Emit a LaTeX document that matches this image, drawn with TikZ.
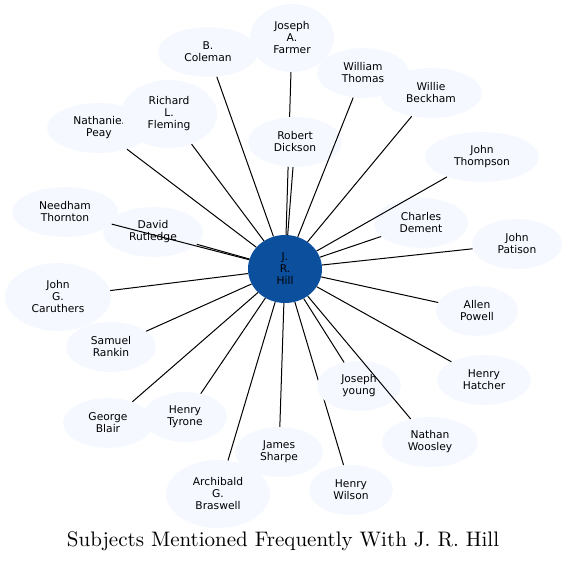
\documentclass[tikz,border=0pt]{standalone}
\usepackage{fontspec}
\newfontfamily\nodefont{DejaVu Sans}
\newfontfamily\capfont{lmroman10-regular}[Extension=.otf]
\usetikzlibrary{shapes.geometric}
\pgfdeclarelayer{bg}
\pgfsetlayers{bg,main}
\definecolor{nodefill}{RGB}{245,249,255}
\definecolor{hillblue}{RGB}{11,79,157}
\tikzset{
  person/.style={ellipse, fill=nodefill, inner sep=0pt, align=center,
    font=\nodefont\fontsize{10.7}{12}\selectfont},
  hub/.style={ellipse, fill=hillblue, inner sep=0pt, align=center,
    font=\nodefont\fontsize{10.7}{12}\selectfont},
  link/.style={line width=1pt, draw=black},
  caption/.style={font=\capfont\fontsize{21}{24}\selectfont, inner sep=0pt}
}
\begin{document}
\begin{tikzpicture}[x=1pt,y=-1pt]
\useasboundingbox (0,0) rectangle (567,564);
% nodes
\node[person, minimum width=104, minimum height=50] (peay) at (99,128) {Nathaniel\\Peay};
\node[person, minimum width=96, minimum height=68] (fleming) at (169,114) {Richard\\L.\\Fleming};
\node[person, minimum width=100, minimum height=50] (coleman) at (208,52) {B.\\Coleman};
\node[person, minimum width=84, minimum height=68] (farmer) at (292,38) {Joseph\\A.\\Farmer};
\node[person, minimum width=92, minimum height=50] (thomas) at (363,73) {William\\Thomas};
\node[person, minimum width=102, minimum height=50] (beckham) at (431,93) {Willie\\Beckham};
\node[person, minimum width=94, minimum height=50] (dickson) at (295,142) {Robert\\Dickson};
\node[person, minimum width=114, minimum height=50] (thompson) at (482,157) {John\\Thompson};
\node[person, minimum width=94, minimum height=50] (dement) at (421,223) {Charles\\Dement};
\node[person, minimum width=90, minimum height=50] (patison) at (517,244) {John\\Patison};
\node[person, minimum width=106, minimum height=50] (thornton) at (65,212) {Needham\\Thornton};
\node[person, minimum width=100, minimum height=50] (rutledge) at (153,232) {David\\Rutledge};
\node[person, minimum width=106, minimum height=68] (caruthers) at (58,297) {John\\G.\\Caruthers};
\node[person, minimum width=90, minimum height=50] (rankin) at (111,347) {Samuel\\Rankin};
\node[person, minimum width=90, minimum height=50] (blair) at (108,423) {George\\Blair};
\node[person, minimum width=84, minimum height=50] (tyrone) at (185,417) {Henry\\Tyrone};
\node[person, minimum width=88, minimum height=50] (sharpe) at (279,452) {James\\Sharpe};
\node[person, minimum width=104, minimum height=68] (braswell) at (218,494) {Archibald\\G.\\Braswell};
\node[person, minimum width=84, minimum height=50] (young) at (359,386) {Joseph\\young};
\node[person, minimum width=96, minimum height=50] (woosley) at (430,442) {Nathan\\Woosley};
\node[person, minimum width=84, minimum height=50] (wilson) at (351,490) {Henry\\Wilson};
\node[person, minimum width=82, minimum height=50] (powell) at (477,311) {Allen\\Powell};
\node[person, minimum width=94, minimum height=50] (hatcher) at (484,380) {Henry\\Hatcher};
\node[hub, minimum width=74, minimum height=68] (hill) at (285,269) {J.\\R.\\Hill};
% edges hidden behind nodes
\begin{pgfonlayer}{bg}
\draw[link] (hill) -- (farmer);
\draw[link] (hill) -- (wilson);
\end{pgfonlayer}
% edges on top
\foreach \t in {peay,fleming,coleman,thomas,beckham,dickson,thompson,dement,patison,
  thornton,rutledge,caruthers,rankin,blair,tyrone,sharpe,braswell,young,woosley,powell,hatcher}
  \draw[link] (hill) -- (\t);
% title
\node[caption] (title) at (283,541) {Subjects Mentioned Frequently With J. R. Hill};
\end{tikzpicture}
\end{document}
